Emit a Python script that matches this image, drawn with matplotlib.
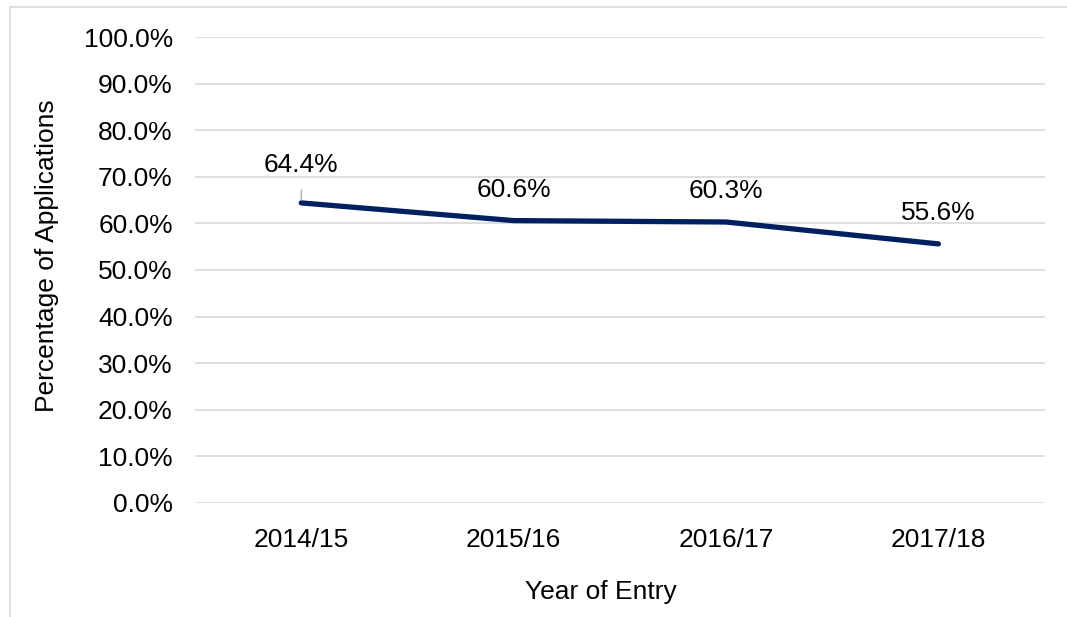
import matplotlib
matplotlib.use('Agg')
import matplotlib.pyplot as plt
from matplotlib.patches import Rectangle
from matplotlib.ticker import PercentFormatter

plt.rcParams['font.family'] = ['Liberation Sans', 'DejaVu Sans']

years = ['2014/15', '2015/16', '2016/17', '2017/18']
pct = [64.4, 60.6, 60.3, 55.6]
yticks = [0, 10, 20, 30, 40, 50, 60, 70, 80, 90, 100]

fig = plt.figure(figsize=(10.67, 6.17), dpi=100)
ax = fig.add_axes([0.1828, 0.1848, 0.7962, 0.7552])

x = list(range(len(years)))
ax.plot(x, pct, color='#002060', linewidth=3.8, solid_capstyle='round', zorder=3)

# data labels, first one pushed up with a leader line
for i, v in enumerate(pct):
    if i == 0:
        ax.annotate(f'{v:.1f}%', xy=(i, v), xytext=(0, 27), textcoords='offset points',
                    ha='center', va='center', fontsize=19,
                    arrowprops=dict(arrowstyle='-', color='#a6a6a6', lw=0.9,
                                    shrinkA=7, shrinkB=2))
    else:
        ax.annotate(f'{v:.1f}%', xy=(i, v), xytext=(0, 22), textcoords='offset points',
                    ha='center', va='center', fontsize=19)

ax.set_xlim(-0.5, 3.5)
ax.set_ylim(0, 100)
ax.set_xticks(x)
ax.set_xticklabels(years)
ax.set_yticks(yticks)
ax.yaxis.set_major_formatter(PercentFormatter(decimals=1))
ax.tick_params(length=0, labelsize=19)
ax.tick_params(axis='y', pad=16)
ax.tick_params(axis='x', pad=18)
ax.grid(axis='y', color='#d9d9d9', linewidth=1.2)
ax.set_axisbelow(True)
for s in ax.spines.values():
    s.set_visible(False)

ax.set_xlabel('Year of Entry', fontsize=19, labelpad=20)
ax.set_ylabel('Percentage of Applications', fontsize=19, labelpad=18)
ax.xaxis.label.set_x(0.478)
ax.yaxis.label.set_y(0.53)

# outer chart border (partly cropped in reference)
fig.patches.append(Rectangle((10 / 1067, -0.1), 1.2, 1.1 - 7 / 617, transform=fig.transFigure,
                             fill=False, edgecolor='#d9d9d9', linewidth=1.2))

fig.savefig('out.png', dpi=100)
